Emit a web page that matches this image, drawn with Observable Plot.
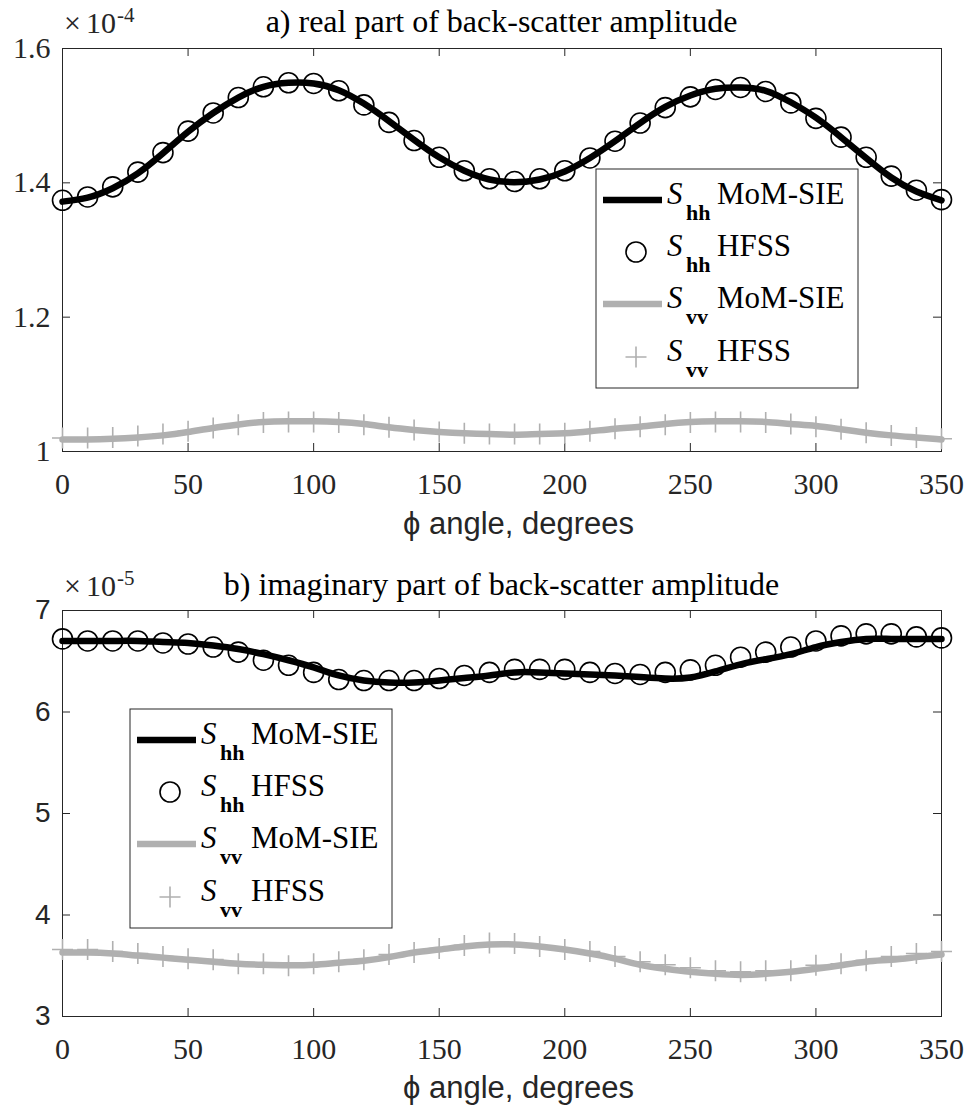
<!DOCTYPE html>
<html><head><meta charset="utf-8">
<script src="https://cdn.jsdelivr.net/npm/d3@7"></script>
<script src="https://cdn.jsdelivr.net/npm/@observablehq/plot@0.6"></script>
<style>
body{margin:0;background:#fff;}
#wrap{position:relative;width:969px;height:1108px;background:#fff;overflow:hidden;}
#wrap > svg{position:absolute;left:0;}
</style></head><body><div id="wrap"></div>
<script>
// ---- data ----
const angles = [0,10,20,30,40,50,60,70,80,90,100,110,120,130,140,150,160,170,180,190,200,210,220,230,240,250,260,270,280,290,300,310,320,330,340,350];
const xTicks = [0,50,100,150,200,250,300,350];

// panel a (x 1e-4)
const aShhMoM  = [1.372,1.378,1.392,1.414,1.444,1.476,1.504,1.527,1.543,1.549,1.548,1.538,1.518,1.492,1.464,1.438,1.418,1.405,1.401,1.405,1.417,1.437,1.462,1.489,1.513,1.530,1.540,1.542,1.537,1.520,1.497,1.468,1.437,1.408,1.387,1.374];
const aShhHFSS = [1.374,1.379,1.394,1.416,1.445,1.477,1.504,1.527,1.543,1.549,1.548,1.537,1.516,1.490,1.463,1.438,1.418,1.406,1.402,1.406,1.418,1.437,1.462,1.489,1.512,1.528,1.539,1.542,1.536,1.519,1.496,1.468,1.438,1.410,1.389,1.375];
const aSvvMoM  = [1.018,1.018,1.019,1.021,1.024,1.029,1.035,1.040,1.044,1.045,1.045,1.044,1.041,1.036,1.032,1.029,1.027,1.026,1.025,1.026,1.027,1.030,1.034,1.037,1.041,1.044,1.045,1.045,1.044,1.041,1.038,1.033,1.028,1.024,1.021,1.018];
const aSvvHFSS = [1.020,1.020,1.021,1.023,1.026,1.030,1.035,1.040,1.043,1.044,1.044,1.043,1.040,1.036,1.032,1.029,1.027,1.026,1.026,1.026,1.027,1.030,1.034,1.037,1.040,1.043,1.044,1.044,1.043,1.041,1.037,1.033,1.028,1.024,1.021,1.019];
const aYTicks = [1,1.2,1.4,1.6];

// panel b (x 1e-5)
const bShhMoM  = [6.70,6.70,6.70,6.70,6.69,6.68,6.655,6.62,6.57,6.51,6.44,6.36,6.31,6.29,6.29,6.31,6.335,6.36,6.39,6.39,6.38,6.37,6.36,6.345,6.33,6.34,6.40,6.47,6.52,6.57,6.64,6.69,6.72,6.72,6.72,6.72];
const bShhHFSS = [6.72,6.70,6.70,6.70,6.68,6.67,6.64,6.59,6.51,6.46,6.39,6.32,6.31,6.31,6.31,6.33,6.36,6.39,6.42,6.42,6.42,6.39,6.38,6.37,6.39,6.415,6.46,6.54,6.59,6.64,6.70,6.75,6.77,6.77,6.74,6.73];
const bSvvMoM  = [3.63,3.63,3.62,3.60,3.58,3.56,3.54,3.52,3.51,3.505,3.51,3.53,3.55,3.585,3.63,3.66,3.69,3.71,3.71,3.69,3.66,3.62,3.57,3.51,3.47,3.44,3.42,3.41,3.42,3.44,3.47,3.505,3.54,3.56,3.585,3.61];
const bSvvHFSS = [3.66,3.66,3.64,3.62,3.59,3.57,3.56,3.52,3.52,3.50,3.52,3.54,3.56,3.61,3.63,3.67,3.70,3.725,3.72,3.69,3.66,3.64,3.59,3.54,3.51,3.48,3.45,3.44,3.45,3.45,3.505,3.52,3.55,3.59,3.62,3.64];
const bYTicks = [3,4,5,6,7];

const titles = ["a) real part of back-scatter amplitude", "b) imaginary part of back-scatter amplitude"];
const exponents = ["-4", "-5"];
const xLabel = "\u03D5 angle, degrees";
const legendSubs = ["hh","hh","vv","vv"];
const legendNames = ["MoM-SIE","HFSS","MoM-SIE","HFSS"];

// ---- styles ----
const SERIF = "Liberation Serif";
const SANS = "Liberation Sans";
const AX = "#262626";
const GRAY = "#b0b0b0";
const W = 969, ML = 62, MR = 28, MT = 48;

const plusSymbol = {
  draw(ctx, size) {
    const r = Math.sqrt(size / Math.PI);
    ctx.moveTo(-r, 0); ctx.lineTo(r, 0);
    ctx.moveTo(0, -r); ctx.lineTo(0, r);
  }
};

function panel(cfg) {
  const {height, mb, yDomain, yTicks, shhM, shhH, svvM, svvH, yFont, yFontSize} = cfg;
  const plotH = height - MT - mb, plotW = W - ML - MR, tl = 8;
  const rows = angles.map((a, i) => ({a, shhM: shhM[i], shhH: shhH[i], svvM: svvM[i], svvH: svvH[i]}));
  return Plot.plot({
    width: W, height,
    marginLeft: ML, marginRight: MR, marginTop: MT, marginBottom: mb,
    x: {domain: [0, 350], axis: null},
    y: {domain: yDomain, axis: null},
    style: {background: "transparent", overflow: "visible", color: AX},
    marks: [
      Plot.frame({stroke: AX, strokeWidth: 1}),
      Plot.tickX(xTicks, {x: d => d, stroke: AX, insetTop: plotH - tl}),
      Plot.tickX(xTicks, {x: d => d, stroke: AX, insetBottom: plotH - tl}),
      Plot.tickY(yTicks, {y: d => d, stroke: AX, insetRight: plotW - tl}),
      Plot.tickY(yTicks, {y: d => d, stroke: AX, insetLeft: plotW - tl}),
      Plot.text(xTicks, {x: d => d, text: d => String(d), frameAnchor: "bottom", lineAnchor: "bottom",
        dy: 42, fontSize: 30, fontFamily: SERIF, fill: AX}),
      Plot.text(yTicks, {y: d => d, text: d => String(d), frameAnchor: "left", textAnchor: "end",
        lineAnchor: "middle", dx: -12, fontSize: yFontSize, fontFamily: yFont, fill: AX}),
      Plot.line(rows, {x: "a", y: "shhM", stroke: "black", strokeWidth: 6.5, curve: "natural"}),
      Plot.dot(rows, {x: "a", y: "shhH", r: 10, stroke: "black", strokeWidth: 1.6, fill: "none"}),
      Plot.line(rows, {x: "a", y: "svvM", stroke: GRAY, strokeWidth: 6.5, curve: "natural"}),
      Plot.dot(rows, {x: "a", y: "svvH", r: 10.5, symbol: plusSymbol, stroke: GRAY, strokeWidth: 1.6, fill: "none"})
    ]
  });
}

const wrap = document.getElementById("wrap");
const p1 = panel({height: 540, mb: 89, yDomain: [1, 1.6], yTicks: aYTicks,
  shhM: aShhMoM, shhH: aShhHFSS, svvM: aSvvMoM, svvH: aSvvHFSS, yFont: SERIF, yFontSize: 30});
p1.style.top = "0px";
wrap.appendChild(p1);
const p2 = panel({height: 546, mb: 92, yDomain: [3, 7], yTicks: bYTicks,
  shhM: bShhMoM, shhH: bShhHFSS, svvM: bSvvMoM, svvH: bSvvHFSS, yFont: SANS, yFontSize: 28});
p2.style.top = "562px";
wrap.appendChild(p2);

// ---- overlay: titles, exponent labels, axis labels, legends ----
const svg = d3.create("svg").attr("width", W).attr("height", 1108)
  .style("top", "0px").style("pointer-events", "none");
const offsets = [0, 563];
titles.forEach((t, k) => {
  const oy = offsets[k];
  svg.append("text").attr("x", 501.5).attr("y", 32 + oy).attr("text-anchor", "middle")
    .attr("font-family", SERIF).attr("font-size", 32).attr("fill", "#000").text(t);
  svg.append("text").attr("x", 64).attr("y", 33 + oy)
    .attr("font-family", SERIF).attr("font-size", 30).attr("fill", AX).text("\u00D7");
  svg.append("text").attr("x", 86).attr("y", 33 + oy)
    .attr("font-family", SERIF).attr("font-size", 30).attr("fill", AX).text("10");
  svg.append("text").attr("x", 117).attr("y", 22 + oy)
    .attr("font-family", SERIF).attr("font-size", 21).attr("fill", AX).text(exponents[k]);
  svg.append("text").attr("x", 403).attr("y", 534 + oy + (k ? 1 : 0))
    .attr("font-family", SANS).attr("font-size", 31).attr("fill", AX).text(xLabel);
});

function legend(x0, y0) {
  const g = svg.append("g");
  g.append("rect").attr("x", x0).attr("y", y0).attr("width", 262).attr("height", 219)
    .attr("fill", "#fff").attr("stroke", AX).attr("stroke-width", 1);
  const rowY = [31, 83, 135, 188];
  rowY.forEach((ry, i) => {
    const cy = y0 + ry;
    const color = i < 2 ? "black" : GRAY;
    if (i % 2 === 0) {
      g.append("line").attr("x1", x0 + 7).attr("x2", x0 + 66).attr("y1", cy).attr("y2", cy)
        .attr("stroke", color).attr("stroke-width", 6.5);
    } else if (i === 1) {
      g.append("circle").attr("cx", x0 + 40).attr("cy", cy).attr("r", 10)
        .attr("fill", "none").attr("stroke", "black").attr("stroke-width", 1.6);
    } else {
      g.append("path").attr("d", `M${x0 + 29.5},${cy}H${x0 + 50.5}M${x0 + 40},${cy - 10.5}V${cy + 10.5}`)
        .attr("stroke", GRAY).attr("stroke-width", 1.6).attr("fill", "none");
    }
    g.append("text").attr("x", x0 + 71).attr("y", cy + 4).attr("font-family", SERIF)
      .attr("font-style", "italic").attr("font-size", 31).attr("fill", "#000").text("S");
    g.append("text").attr("x", x0 + 90).attr("y", cy + 20).attr("font-family", SERIF)
      .attr("font-weight", "bold").attr("font-size", 22).attr("fill", "#000").text(legendSubs[i]);
    g.append("text").attr("x", x0 + 121).attr("y", cy + 4).attr("font-family", SERIF)
      .attr("font-size", 31).attr("fill", "#000").text(legendNames[i]);
  });
}
legend(596, 169);
legend(130, 709);

wrap.appendChild(svg.node());
</script></body></html>
